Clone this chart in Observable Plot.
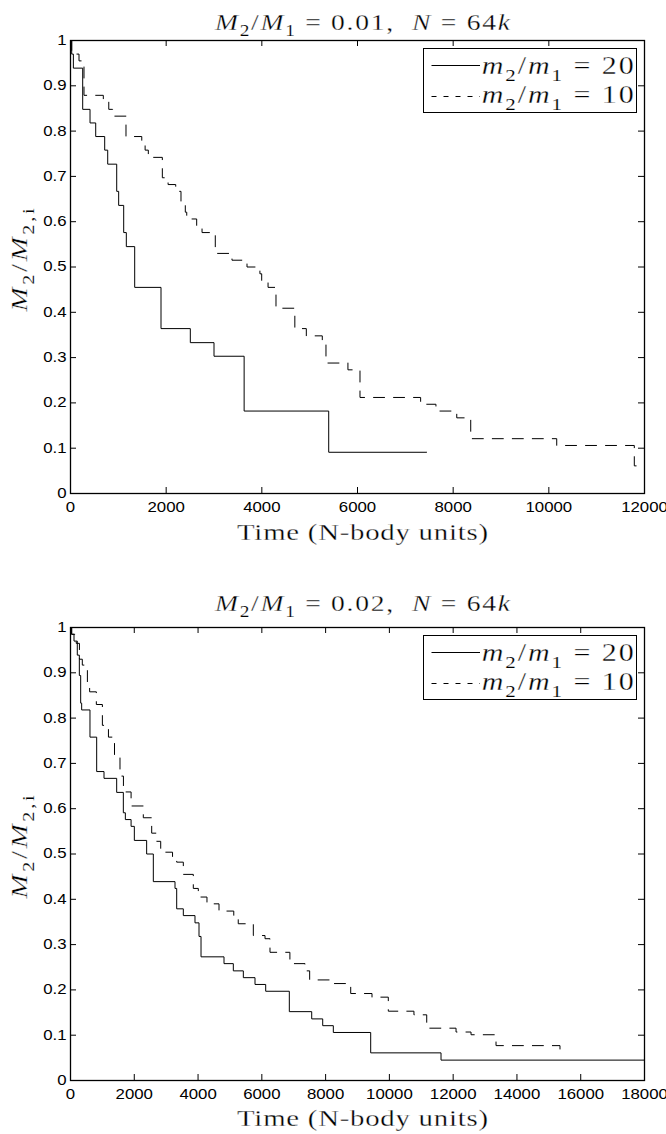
<!DOCTYPE html>
<html>
<head>
<meta charset="utf-8">
<script src="https://cdn.jsdelivr.net/npm/d3@7"></script>
<script src="https://cdn.jsdelivr.net/npm/@observablehq/plot@0.6"></script>
<style>
  html, body { margin: 0; padding: 0; background: #fff; }
  #wrap { width: 666px; }
  #wrap svg { display: block; }
</style>
</head>
<body>
<div id="wrap"></div>
<script>
// ---- tick values ----
const xTicksTop = [0, 2000, 4000, 6000, 8000, 10000, 12000];
const xTicksBottom = [0, 2000, 4000, 6000, 8000, 10000, 12000, 14000, 16000, 18000];
const yTicks = [0, 0.1, 0.2, 0.3, 0.4, 0.5, 0.6, 0.7, 0.8, 0.9, 1];

// ---- panel 1: M2/M1 = 0.01 ----
const top20Time = [0, 25, 60, 255, 408, 527, 715, 778, 966, 1007, 1112, 1167, 1342, 1892, 2505, 3000, 3630, 5398, 7447];
const top20Frac = [1, 0.970, 0.939, 0.848, 0.818, 0.788, 0.758, 0.727, 0.667, 0.636, 0.576, 0.545, 0.455, 0.364, 0.333, 0.303, 0.182, 0.091, 0.091];

const top10Time = [0, 25, 178, 282, 686, 800, 880, 1160, 1490, 1560, 1627, 1920, 2040, 2200, 2310, 2400, 2430, 2638, 2750, 3027, 3376, 3690, 3960, 3997, 4130, 4296, 4690, 4930, 5264, 5341, 5800, 6052, 7320, 7640, 8075, 8367, 10165, 11787, 12000];
const top10Frac = [1, 0.970, 0.955, 0.879, 0.864, 0.848, 0.833, 0.788, 0.773, 0.758, 0.742, 0.697, 0.682, 0.667, 0.636, 0.621, 0.606, 0.591, 0.576, 0.530, 0.515, 0.500, 0.485, 0.470, 0.455, 0.409, 0.364, 0.348, 0.333, 0.288, 0.273, 0.212, 0.197, 0.182, 0.167, 0.121, 0.106, 0.061, 0.061];

// ---- panel 2: M2/M1 = 0.02 ----
const bot20Time = [0, 30, 110, 213, 277, 319, 350, 611, 821, 1051, 1448, 1657, 1720, 1900, 2002, 2388, 2597, 3277, 3330, 3538, 3904, 4030, 4093, 4814, 5106, 5420, 5786, 6121, 6862, 7564, 7909, 8242, 9414, 11619, 18000];
const bot20Frac = [1, 0.985, 0.970, 0.939, 0.894, 0.833, 0.818, 0.758, 0.682, 0.667, 0.636, 0.591, 0.576, 0.561, 0.530, 0.500, 0.439, 0.424, 0.379, 0.364, 0.348, 0.318, 0.273, 0.258, 0.242, 0.227, 0.212, 0.197, 0.152, 0.136, 0.121, 0.106, 0.061, 0.045, 0.045];

const bot10Time = [0, 40, 180, 280, 370, 450, 530, 600, 810, 1000, 1190, 1380, 1552, 1660, 1900, 2283, 2546, 2703, 2829, 3200, 3330, 3538, 3851, 4008, 4280, 4657, 5120, 5260, 5733, 6100, 6256, 6880, 7354, 7500, 8260, 8787, 9455, 9966, 10770, 11171, 12090, 12560, 13344, 15350, 15508];
const bot10Frac = [1.0, 0.985, 0.965, 0.93, 0.917, 0.909, 0.876, 0.858, 0.83, 0.784, 0.758, 0.712, 0.672, 0.637, 0.606, 0.58, 0.546, 0.528, 0.504, 0.49, 0.482, 0.455, 0.424, 0.405, 0.39, 0.374, 0.36, 0.346, 0.32, 0.313, 0.283, 0.258, 0.242, 0.222, 0.214, 0.192, 0.184, 0.153, 0.145, 0.1155, 0.107, 0.101, 0.077, 0.069, 0.069];

const rows = (ts, vs) => ts.map((t, i) => ({t, v: vs[i]}));

const SERIF = "'Liberation Serif', 'DejaVu Serif', serif";
const STRETCH = 1.2;

function mathText(parent, {x, y, parts, size, length, anchor = "middle", rotate = 0}) {
  const t = parent.append("text")
    .attr("font-family", SERIF)
    .attr("font-size", size)
    .attr("font-weight", "normal")
    .attr("text-anchor", anchor)
    .attr("fill", "black")
    .attr("stroke", "white")
    .attr("stroke-width", 0.3)
    .style("white-space", "pre")
    .attr("transform", `translate(${x},${y})` + (rotate ? ` rotate(${rotate})` : "") + ` scale(${STRETCH},1)`);
  let shift = 0;
  for (const [s, kind] of parts) {
    const ts = t.append("tspan").text(s);
    if (kind.includes("i")) ts.attr("font-style", "italic");
    const isSub = kind.includes("sub");
    const target = isSub ? size * 0.28 : 0;
    if (target !== shift) { ts.attr("dy", target - shift); shift = target; }
    if (isSub) ts.attr("font-size", size * 0.7).attr("stroke-width", 0.15);
  }
  if (length) t.attr("textLength", length / STRETCH).attr("lengthAdjust", "spacing");
  return t;
}

function panel({mt, mb, xDomain, xTicks, s20, s10, titleParts, titleY, xLabelY, yLabelY}) {
  const W = 666, H = 567, ml = 70, mr = 22;
  const fh = H - mt - mb, fw = W - ml - mr;
  const svg = Plot.plot({
    width: W, height: H,
    marginTop: mt, marginBottom: mb, marginLeft: ml, marginRight: mr,
    x: {domain: xDomain},
    y: {domain: [0, 1]},
    style: {fontFamily: "'Liberation Sans', Arial, sans-serif", fontSize: "14px", color: "black", background: "white", overflow: "visible"},
    marks: [
      Plot.line(s10, {x: "t", y: "v", curve: "step-after", stroke: "black", strokeWidth: 1, strokeDasharray: "11,9"}),
      Plot.line(s20, {x: "t", y: "v", curve: "step-after", stroke: "black", strokeWidth: 1}),
      Plot.ruleX(xTicks, {x: d => d, insetTop: fh - 6, stroke: "black"}),
      Plot.ruleX(xTicks, {x: d => d, insetBottom: fh - 6, stroke: "black"}),
      Plot.ruleY(yTicks, {y: d => d, insetRight: fw - 6, stroke: "black"}),
      Plot.ruleY(yTicks, {y: d => d, insetLeft: fw - 6, stroke: "black"}),
      Plot.frame({stroke: "black", strokeWidth: 1.3}),
      Plot.axisX(xTicks, {tickSize: 0, tickPadding: 9, tickFormat: d => String(d), label: null}),
      Plot.axisY(yTicks, {tickSize: 0, tickPadding: 4, tickFormat: d => String(d), label: null})
    ]
  });
  const s = d3.select(svg);
  // widen tick labels to match reference proportions
  s.selectAll('g[aria-label$="tick label"] text').each(function() {
    const tr = this.getAttribute("transform") || "";
    this.setAttribute("transform", tr + " scale(1.2,1)");
  });
  const g = s.append("g");
  // title
  mathText(g, {x: 362.5, y: titleY, parts: titleParts, size: 23, length: 295});
  // x label
  mathText(g, {x: 362.5, y: xLabelY, parts: [["Time (N-body units)", ""]], size: 24, length: 251});
  // y label
  mathText(g, {x: 27, y: yLabelY, parts: [["M", "i"], ["2", "sub"], ["/", ""], ["M", "i"], ["2,i", "sub"]], size: 24, length: 103, rotate: -90});
  // legend
  const bx0 = 423.5, bx1 = 636.5, by0 = mt + 8.5, by1 = mt + 72.5;
  g.append("rect").attr("x", bx0).attr("y", by0).attr("width", bx1 - bx0).attr("height", by1 - by0)
    .attr("fill", "white").attr("stroke", "black").attr("stroke-width", 1);
  g.append("line").attr("x1", 431.5).attr("x2", 480).attr("y1", mt + 25.5).attr("y2", mt + 25.5)
    .attr("stroke", "black").attr("stroke-width", 1);
  g.append("line").attr("x1", 431.5).attr("x2", 480).attr("y1", mt + 56.5).attr("y2", mt + 56.5)
    .attr("stroke", "black").attr("stroke-width", 1).attr("stroke-dasharray", "5,7");
  mathText(g, {x: 481.7, y: mt + 34, anchor: "start", size: 25, length: 152,
    parts: [["m", "i"], ["2", "sub"], ["/", ""], ["m", "i"], ["1", "sub"], [" = 20", ""]]});
  mathText(g, {x: 481.7, y: mt + 62.5, anchor: "start", size: 25, length: 152,
    parts: [["m", "i"], ["2", "sub"], ["/", ""], ["m", "i"], ["1", "sub"], [" = 10", ""]]});
  return svg;
}

const wrap = document.getElementById("wrap");
wrap.appendChild(panel({
  mt: 40, mb: 74, xDomain: [0, 12000], xTicks: xTicksTop,
  s20: rows(top20Time, top20Frac), s10: rows(top10Time, top10Frac),
  titleParts: [["M", "i"], ["2", "sub"], ["/", ""], ["M", "i"], ["1", "sub"], [" = 0.01,  ", ""], ["N", "i"], [" = 64", ""], ["k", "i"]],
  titleY: 30, xLabelY: 540, yLabelY: 260
}));
wrap.appendChild(panel({
  mt: 60, mb: 54, xDomain: [0, 18000], xTicks: xTicksBottom,
  s20: rows(bot20Time, bot20Frac), s10: rows(bot10Time, bot10Frac),
  titleParts: [["M", "i"], ["2", "sub"], ["/", ""], ["M", "i"], ["1", "sub"], [" = 0.02,  ", ""], ["N", "i"], [" = 64", ""], ["k", "i"]],
  titleY: 43.5, xLabelY: 559, yLabelY: 280
}));
</script>
</body>
</html>
